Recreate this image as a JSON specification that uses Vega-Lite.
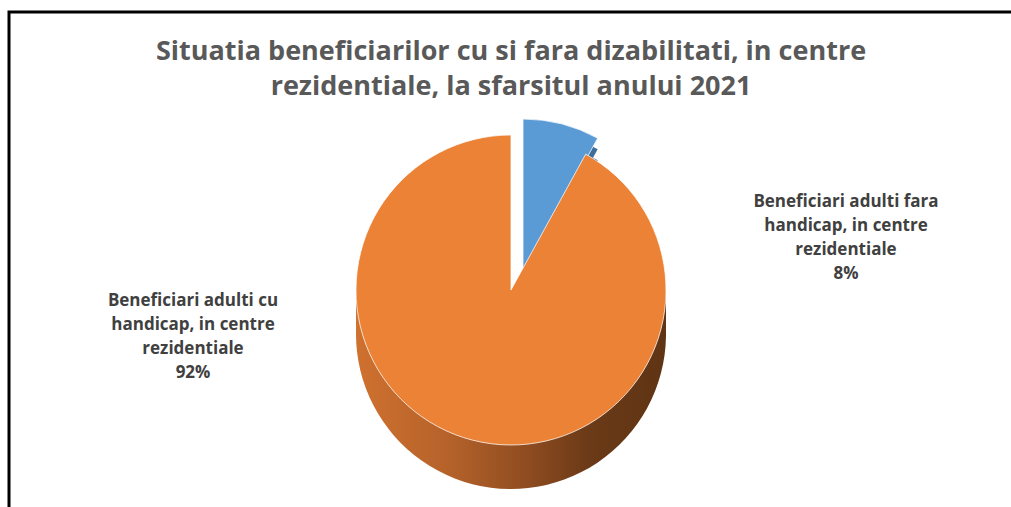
{
  "$schema": "https://vega.github.io/schema/vega-lite/v6.json",
  "width": 1004,
  "height": 556,
  "autosize": {"type": "none"},
  "padding": {"left": 9, "top": 12, "right": 0, "bottom": 0},
  "background": "white",
  "view": {"stroke": "#000000", "strokeWidth": 3},
  "title": {
    "text": ["Situatia beneficiarilor cu si fara dizabilitati, in centre", "rezidentiale, la sfarsitul anului 2021"],
    "font": "Open Sans",
    "fontSize": 27,
    "fontWeight": "bold",
    "color": "#595959",
    "anchor": "middle",
    "offset": -89,
    "lineHeight": 35
  },
  "data": {
    "values": [
      {"categorie": "Beneficiari adulti fara handicap, in centre rezidentiale", "procent": 8, "ordine": 1, "eticheta": "Beneficiari adulti fara\nhandicap, in centre\nrezidentiale\n8%"},
      {"categorie": "Beneficiari adulti cu handicap, in centre rezidentiale", "procent": 92, "ordine": 2, "eticheta": "Beneficiari adulti cu\nhandicap, in centre\nrezidentiale\n92%"}
    ]
  },
  "encoding": {
    "theta": {"field": "procent", "type": "quantitative", "stack": true},
    "order": {"field": "ordine", "type": "quantitative"}
  },
  "layer": [
    {
      "mark": {"type": "arc", "radius": 155, "xOffset": {"expr": "datum.ordine === 1 ? 12 : 0"}, "yOffset": {"expr": "(datum.ordine === 1 ? -16 : 0) + 44"}},
      "encoding": {"fill": {"condition": {"test": "datum.ordine === 1", "value": "#3F6E98"}, "value": {"gradient": "linear", "x1": 0, "x2": 1, "y1": 0, "y2": 0, "stops": [{"offset": 0, "color": "#CF712F"}, {"offset": 0.3, "color": "#B5622A"}, {"offset": 0.55, "color": "#8F4C20"}, {"offset": 0.75, "color": "#6B3A17"}, {"offset": 1, "color": "#5F3414"}]}}}
    },
    {
      "mark": {"type": "arc", "radius": 155, "xOffset": {"expr": "datum.ordine === 1 ? 12 : 0"}, "yOffset": {"expr": "(datum.ordine === 1 ? -16 : 0) + 33"}},
      "encoding": {"fill": {"condition": {"test": "datum.ordine === 1", "value": "#3F6E98"}, "value": {"gradient": "linear", "x1": 0, "x2": 1, "y1": 0, "y2": 0, "stops": [{"offset": 0, "color": "#CF712F"}, {"offset": 0.3, "color": "#B5622A"}, {"offset": 0.55, "color": "#8F4C20"}, {"offset": 0.75, "color": "#6B3A17"}, {"offset": 1, "color": "#5F3414"}]}}}
    },
    {
      "mark": {"type": "arc", "radius": 155, "xOffset": {"expr": "datum.ordine === 1 ? 12 : 0"}, "yOffset": {"expr": "(datum.ordine === 1 ? -16 : 0) + 22"}},
      "encoding": {"fill": {"condition": {"test": "datum.ordine === 1", "value": "#3F6E98"}, "value": {"gradient": "linear", "x1": 0, "x2": 1, "y1": 0, "y2": 0, "stops": [{"offset": 0, "color": "#CF712F"}, {"offset": 0.3, "color": "#B5622A"}, {"offset": 0.55, "color": "#8F4C20"}, {"offset": 0.75, "color": "#6B3A17"}, {"offset": 1, "color": "#5F3414"}]}}}
    },
    {
      "mark": {"type": "arc", "radius": 155, "xOffset": {"expr": "datum.ordine === 1 ? 12 : 0"}, "yOffset": {"expr": "(datum.ordine === 1 ? -16 : 0) + 11"}},
      "encoding": {"fill": {"condition": {"test": "datum.ordine === 1", "value": "#3F6E98"}, "value": {"gradient": "linear", "x1": 0, "x2": 1, "y1": 0, "y2": 0, "stops": [{"offset": 0, "color": "#CF712F"}, {"offset": 0.3, "color": "#B5622A"}, {"offset": 0.55, "color": "#8F4C20"}, {"offset": 0.75, "color": "#6B3A17"}, {"offset": 1, "color": "#5F3414"}]}}}
    },
    {
      "mark": {"type": "arc", "radius": 155, "stroke": "#FFFFFF", "strokeOpacity": 0.75, "strokeWidth": 1, "xOffset": {"expr": "datum.ordine === 1 ? 12 : 0"}, "yOffset": {"expr": "datum.ordine === 1 ? -16 : 0"}},
      "encoding": {"fill": {"field": "categorie", "type": "nominal", "scale": {"domain": ["Beneficiari adulti fara handicap, in centre rezidentiale", "Beneficiari adulti cu handicap, in centre rezidentiale"], "range": ["#5B9BD5", "#EB8236"]}, "legend": null}}
    },
    {
      "mark": {"type": "text", "radius": 0, "font": "Open Sans", "fontSize": 17, "fontWeight": "bold", "color": "#404040", "align": "center", "baseline": "top", "lineBreak": "\n", "lineHeight": 24,
        "dx": {"expr": "datum.ordine === 1 ? 335 : -318"},
        "dy": {"expr": "datum.ordine === 1 ? -96 : 3"}},
      "encoding": {"text": {"field": "eticheta", "type": "nominal"}}
    }
  ]
}
